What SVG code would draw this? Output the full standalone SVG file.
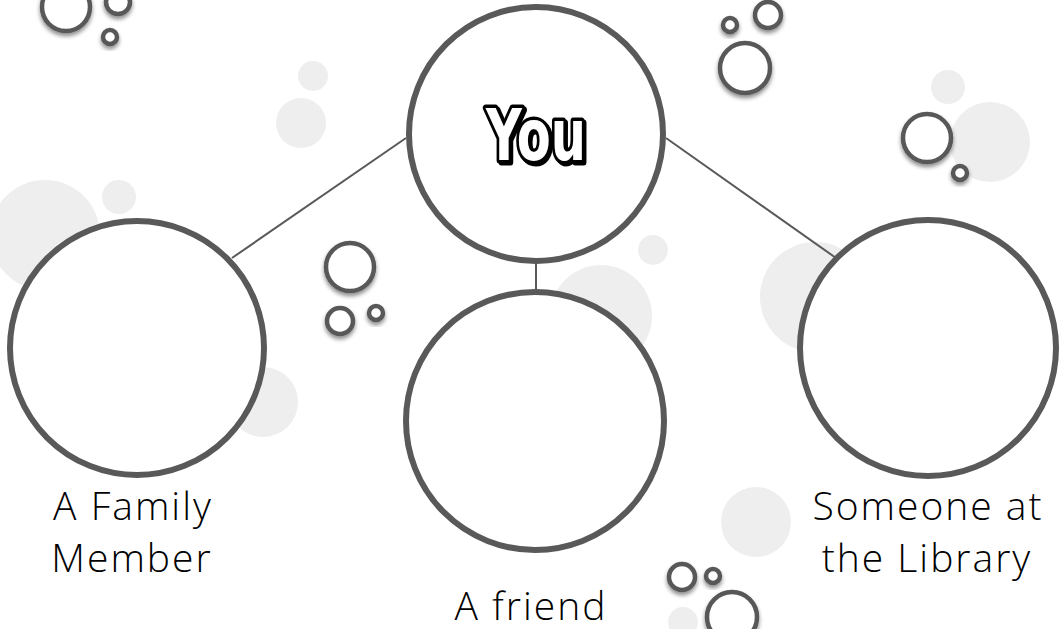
<svg xmlns="http://www.w3.org/2000/svg" width="1063" height="629" viewBox="0 0 1063 629">
<defs>
<filter id="sh" x="-50%" y="-50%" width="200%" height="200%">
<feDropShadow dx="0" dy="3" stdDeviation="2" flood-color="#000" flood-opacity="0.45"/>
</filter>
<style>
.bg{fill:#eeeeee;stroke:none}
.bub{fill:#ffffff;stroke:#595959;stroke-width:4.5;filter:url(#sh)}
.node{fill:#ffffff;stroke:#595959;stroke-width:6}
.conn{stroke:#595959;stroke-width:2;fill:none}
.lbl{font-family:"Open Sans","Lato","Noto Sans",sans-serif;font-weight:300;font-size:39px;letter-spacing:2px;fill:#000000;text-anchor:middle}
.you{font-family:"DejaVu Sans Condensed","DejaVu Sans",sans-serif;font-weight:bold;font-size:72px;fill:#ffffff;stroke:#000000;stroke-width:7;paint-order:stroke fill;stroke-linejoin:round;text-anchor:middle}
.youshadow{font-family:"DejaVu Sans Condensed","DejaVu Sans",sans-serif;font-weight:bold;font-size:72px;fill:#000000;stroke:#000000;stroke-width:7;stroke-linejoin:round;text-anchor:middle}
</style>
</defs>
<rect width="1063" height="629" fill="#ffffff"/>
<g id="background">
<circle class="bg" cx="45" cy="235" r="55"/>
<circle class="bg" cx="119" cy="197" r="17"/>
<circle class="bg" cx="313" cy="76" r="15"/>
<circle class="bg" cx="301" cy="123" r="25"/>
<circle class="bg" cx="263" cy="402" r="35"/>
<circle class="bg" cx="653" cy="250" r="15"/>
<circle class="bg" cx="601" cy="316" r="51"/>
<circle class="bg" cx="815" cy="297" r="55"/>
<circle class="bg" cx="948" cy="87" r="17"/>
<circle class="bg" cx="990" cy="142" r="40"/>
<circle class="bg" cx="756" cy="522" r="35"/>
<circle class="bg" cx="683" cy="622" r="15"/>
</g>
<g id="bubbles">
<circle class="bub" cx="66" cy="7" r="24"/>
<circle class="bub" cx="118" cy="2" r="12"/>
<circle class="bub" cx="110" cy="37" r="7"/>
<circle class="bub" cx="730" cy="25" r="7"/>
<circle class="bub" cx="768" cy="15" r="13"/>
<circle class="bub" cx="745" cy="68" r="25"/>
<circle class="bub" cx="927" cy="138" r="24"/>
<circle class="bub" cx="960" cy="173" r="7"/>
<circle class="bub" cx="350" cy="267" r="24"/>
<circle class="bub" cx="340" cy="321" r="13"/>
<circle class="bub" cx="376" cy="313" r="7"/>
<circle class="bub" cx="682" cy="577" r="13"/>
<circle class="bub" cx="713" cy="576" r="7"/>
<circle class="bub" cx="732" cy="617" r="25"/>
</g>
<g id="connectors">
<line class="conn" x1="406" y1="138" x2="232" y2="258"/>
<line class="conn" x1="666" y1="138" x2="836" y2="258"/>
<line class="conn" x1="536" y1="262" x2="536" y2="292"/>
</g>
<g id="node-you">
<circle class="node" cx="536" cy="134" r="127"/>
<text class="youshadow" x="538" y="162" textLength="100" lengthAdjust="spacingAndGlyphs">You</text>
<text class="you" x="536" y="160" textLength="100" lengthAdjust="spacingAndGlyphs">You</text>
</g>
<g id="node-family">
<circle class="node" cx="137" cy="348" r="127"/>
<text class="lbl" x="133" y="520">A Family</text>
<text class="lbl" x="132" y="572">Member</text>
</g>
<g id="node-friend">
<circle class="node" cx="535" cy="421" r="129"/>
<text class="lbl" x="531" y="620">A friend</text>
</g>
<g id="node-library">
<circle class="node" cx="928" cy="348" r="128"/>
<text class="lbl" x="928" y="520">Someone at</text>
<text class="lbl" x="927" y="572">the Library</text>
</g>
</svg>
